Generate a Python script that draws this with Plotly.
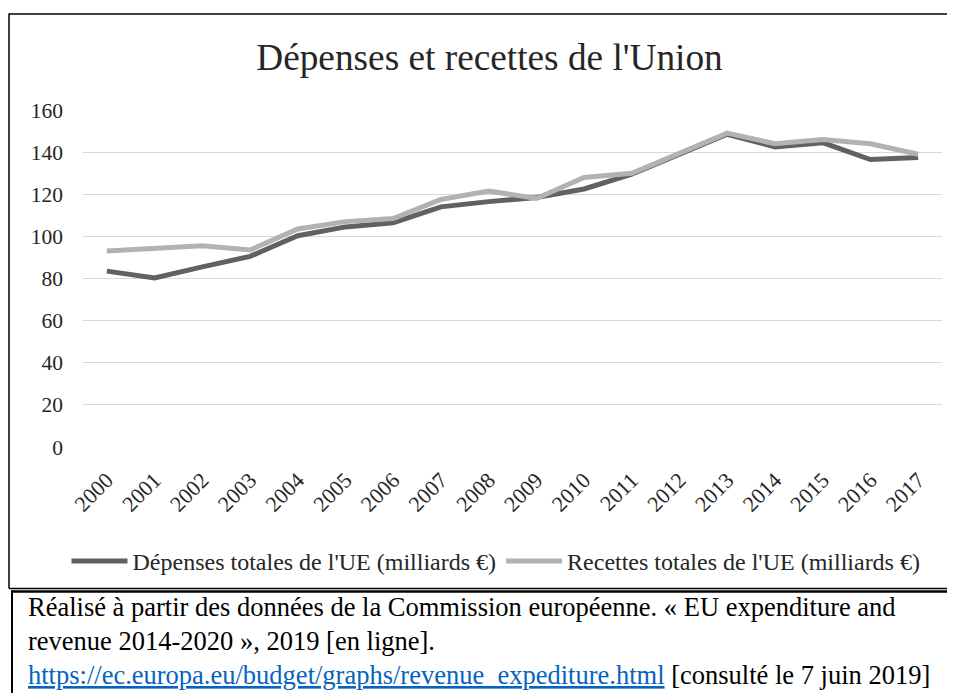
import plotly.graph_objects as go

years = [str(y) for y in range(2000, 2018)]
depenses = [83.5, 80.3, 85.5, 90.5, 100.3, 104.5, 106.5, 114.0, 116.5, 118.5,
            122.5, 129.5, 139.0, 148.5, 142.5, 144.5, 136.5, 137.5]
recettes = [93.0, 94.5, 95.5, 93.5, 103.5, 107.0, 108.5, 117.5, 121.5, 118.0,
            128.0, 130.0, 139.5, 149.0, 144.0, 146.0, 144.0, 139.0]
y_ticks = [0, 20, 40, 60, 80, 100, 120, 140, 160]

title_text = "Dépenses et recettes de l'Union"
name_dep = "Dépenses totales de l'UE (milliards €)"
name_rec = "Recettes totales de l'UE (milliards €)"
source_line1 = "Réalisé à partir des données de la Commission européenne. « EU expenditure and"
source_line2 = "revenue 2014-2020 », 2019 [en ligne]."
source_url = "https://ec.europa.eu/budget/graphs/revenue_expediture.html"
source_tail = " [consulté le 7 juin 2019]"

# page offset (browser body margin)
O = 8
W, H = 955 - O, 693 - O
L = 83 - O
T = 110 - O
R = W - (942 - O)
B = H - (446.7 - O)
PW = W - L - R
PH = H - T - B

def px(x):
    return (x - O - L) / PW

def py(y):
    return (H - B - (y - O)) / PH

FONT = "Liberation Serif, Times New Roman, serif"
SRC = 26.5

fig = go.Figure()
fig.add_trace(go.Scatter(x=years, y=depenses, mode="lines", name=name_dep,
                         line=dict(color="#616161", width=5)))
fig.add_trace(go.Scatter(x=years, y=recettes, mode="lines", name=name_rec,
                         line=dict(color="#b2b2b2", width=5)))

def seg(x0, y0, x1, y1, w):
    return dict(type="line", xref="paper", yref="paper", x0=px(x0), y0=py(y0),
                x1=px(x1), y1=py(y1), line=dict(color="black", width=w), layer="below")

shapes = [
    seg(9, 13.5, 9, 588, 1.5),
    seg(9, 14, 975, 14, 1.5),
    seg(9, 588, 975, 588, 1.5),
    seg(12, 590, 12, 710, 2),
    seg(11, 591, 975, 591, 2.5),
]

annotations = [
    dict(text=source_line1, xref="paper", yref="paper", x=px(26), y=py(607),
         xanchor="left", yanchor="middle", showarrow=False,
         font=dict(family=FONT, size=SRC, color="black")),
    dict(text=source_line2, xref="paper", yref="paper", x=px(26), y=py(641),
         xanchor="left", yanchor="middle", showarrow=False,
         font=dict(family=FONT, size=SRC, color="black")),
    dict(text="<a href='" + source_url + "' style='color:#0563C1'><u>" + source_url + "</u></a>" + source_tail,
         xref="paper", yref="paper", x=px(26), y=py(674),
         xanchor="left", yanchor="middle", showarrow=False,
         font=dict(family=FONT, size=SRC, color="black")),
]

fig.update_layout(
    width=W, height=H,
    margin=dict(l=L, r=R, t=T, b=B, autoexpand=False),
    paper_bgcolor="white", plot_bgcolor="white",
    font=dict(family=FONT, color="#262626"),
    title=dict(text=title_text, x=px(489.5), xanchor="center", xref="paper",
               y=1 - (57 - O) / H, yanchor="middle",
               font=dict(family=FONT, size=37.3, color="#262626")),
    showlegend=True,
    legend=dict(orientation="h", x=px(496), xanchor="center", y=py(561), yanchor="middle",
                font=dict(family=FONT, size=24, color="#262626"),
                bgcolor="rgba(0,0,0,0)", itemwidth=56, tracegroupgap=0),
    xaxis=dict(type="category", range=[-0.5, 17.5], showgrid=False, zeroline=False,
               showline=False, ticks="", tickangle=-45, ticklabelstandoff=15,
               tickfont=dict(family=FONT, size=22, color="#262626")),
    yaxis=dict(range=[0, 160], tickvals=y_ticks, showgrid=True, gridcolor="#d9d9d9",
               gridwidth=1, zeroline=False, showline=False, ticks="",
               ticklabelstandoff=19,
               tickfont=dict(family=FONT, size=21.5, color="#262626")),
    shapes=shapes,
    annotations=annotations,
)

fig.write_html("out.html")
